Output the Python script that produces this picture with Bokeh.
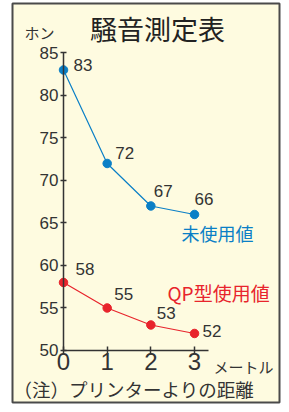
from bokeh.plotting import figure
from bokeh.models import ColumnDataSource, LabelSet, Label, FixedTicker, Range1d
from bokeh.core.properties import value
from bokeh.embed import file_html
from bokeh.resources import INLINE

# ---- data ----
distance = [0, 1, 2, 3]
unused = [83, 72, 67, 66]
qp_used = [58, 55, 53, 52]
x_ticks = [0, 1, 2, 3]
y_ticks = [50, 55, 60, 65, 70, 75, 80, 85]
title_text = "騒音測定表"
y_unit = "ホン"
x_unit = "メートル"
note = "（注）プリンターよりの距離"
name_unused = "未使用値"
name_qp = "QP型使用値"

BLUE = "#0a7fc6"
RED = "#e8242c"
INK = "#333333"
CREAM = "#fefbe0"
DIGIT = "Liberation Sans"
CJK = "Noto Sans CJK JP"

p = figure(width=281, height=404, output_backend="svg", toolbar_location=None,
           x_range=Range1d(-1.168, 4.946), y_range=Range1d(43.88, 90.82),
           min_border_left=12, min_border_right=2, min_border_top=3, min_border_bottom=2)
p.background_fill_color = CREAM
p.border_fill_color = "white"
p.outline_line_color = "#4a4a4a"
p.outline_line_width = 2
p.grid.visible = False

# axes
for ax in (p.xaxis[0], p.yaxis[0]):
    ax.axis_line_color = INK
    ax.axis_line_width = 1.5
    ax.major_tick_line_color = INK
    ax.major_tick_line_width = 1.5
    ax.minor_tick_line_color = None
    ax.major_label_text_color = INK
    ax.major_label_text_font = DIGIT

p.xaxis[0].fixed_location = 50
p.xaxis[0].bounds = (0, 3.32)
p.xaxis[0].ticker = FixedTicker(ticks=x_ticks)
p.xaxis[0].major_tick_in = 4
p.xaxis[0].major_tick_out = 3
p.xaxis[0].major_label_text_font_size = "24px"
p.xaxis[0].major_label_standoff = 0

p.yaxis[0].fixed_location = 0
p.yaxis[0].bounds = (50, 85)
p.yaxis[0].ticker = FixedTicker(ticks=y_ticks)
p.yaxis[0].major_tick_in = 3
p.yaxis[0].major_tick_out = 3
p.yaxis[0].major_label_text_font_size = "17px"
p.yaxis[0].major_label_standoff = 2

# series
src_u = ColumnDataSource(dict(x=distance, y=unused, t=[str(v) for v in unused],
                              dx=[10, 8, 3, 0], dy=[5, 10, 15, 15]))
src_q = ColumnDataSource(dict(x=distance, y=qp_used, t=[str(v) for v in qp_used],
                              dx=[12, 7, 6, 8], dy=[13, 14, 12, 2]))

p.line("x", "y", source=src_u, line_color=BLUE, line_width=1.2)
p.scatter("x", "y", source=src_u, size=8.5, fill_color=BLUE, line_color=BLUE)
p.line("x", "y", source=src_q, line_color=RED, line_width=1.2)
p.scatter("x", "y", source=src_q, size=8.5, fill_color=RED, line_color=RED)

for src in (src_u, src_q):
    p.add_layout(LabelSet(x="x", y="y", text="t", source=src, x_offset="dx", y_offset="dy",
                          text_font=value(DIGIT), text_font_size=value("17px"),
                          text_color=INK, text_align="left", text_baseline="middle"))

def lab(text, x, y, size, color=INK, align="left", font=CJK):
    p.add_layout(Label(x=x, y=y, x_units="screen", y_units="screen", text=text,
                       text_font=font, text_font_size=size, text_color=color,
                       text_align=align, text_baseline="middle"))

lab(title_text, 145, 374, "27px", color="#222222", align="center")
lab(y_unit, 12, 370, "15px")
lab(name_unused, 169, 170, "18px", color=BLUE)
lab(name_qp, 155, 110, "19px", color=RED)
lab(x_unit, 201, 36, "15px")
lab(note, 1, 14, "18.5px")

open("out.html", "w").write(file_html(p, INLINE))
